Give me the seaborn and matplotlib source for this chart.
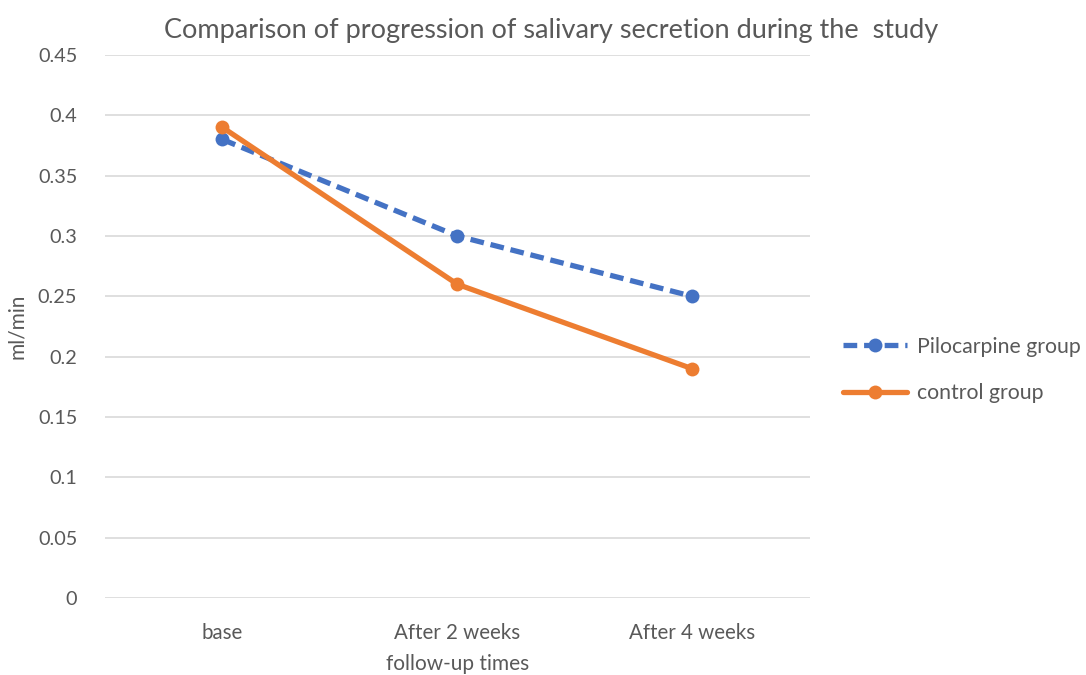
import matplotlib
matplotlib.use('Agg')
import matplotlib.pyplot as plt
import pandas as pd
import seaborn as sns

# Data
times = ['base', 'After 2 weeks', 'After 4 weeks']
pilocarpine = [0.38, 0.30, 0.25]
control = [0.39, 0.26, 0.19]

df = pd.DataFrame({
    'time': times * 2,
    'value': pilocarpine + control,
    'group': ['Pilocarpine group'] * 3 + ['control group'] * 3,
})

sns.set_theme(style='white')
plt.rcParams['font.family'] = ['Lato', 'DejaVu Sans']
text_color = '#595959'

fig = plt.figure(figsize=(10.86, 6.75), dpi=100)
ax = fig.add_axes([0.0967, 0.114, 0.649, 0.8045])

palette = {'Pilocarpine group': '#4472c4', 'control group': '#ed7d31'}
sns.lineplot(data=df, x='time', y='value', hue='group', style='group',
             palette=palette, dashes={'Pilocarpine group': (2.6, 1.3), 'control group': ''},
             markers={'Pilocarpine group': 'o', 'control group': 'o'},
             markersize=10, linewidth=3.8, sort=False, ax=ax,
             markeredgewidth=0)

ax.set_xlim(-0.5, 2.5)
ax.set_ylim(0, 0.45)
ax.set_yticks([0, 0.05, 0.1, 0.15, 0.2, 0.25, 0.3, 0.35, 0.4, 0.45])
ax.set_yticklabels(['0', '0.05', '0.1', '0.15', '0.2', '0.25', '0.3', '0.35', '0.4', '0.45'])
ax.grid(axis='y', color='#d9d9d9', linewidth=1.2)
ax.grid(axis='x', visible=False)
for s in ax.spines.values():
    s.set_visible(False)
ax.tick_params(axis='x', length=0, labelsize=14.8, colors=text_color, pad=18)
ax.tick_params(axis='y', length=0, labelsize=14.3, colors=text_color, pad=20)

ax.set_xlabel('follow-up times', fontsize=15, color=text_color, labelpad=8)
ax.set_ylabel('ml/min', fontsize=15, color=text_color, labelpad=8)
ax.set_title('Comparison of progression of salivary secretion during the  study',
             fontsize=19.5, color=text_color, pad=12, x=0.633)

leg = ax.legend(loc='center left', bbox_to_anchor=(1.02, 0.42), frameon=False,
                fontsize=15.3, handlelength=3.0, labelspacing=1.25, handletextpad=0.5)
for t in leg.get_texts():
    t.set_color(text_color)

fig.savefig('out.png', dpi=100)
